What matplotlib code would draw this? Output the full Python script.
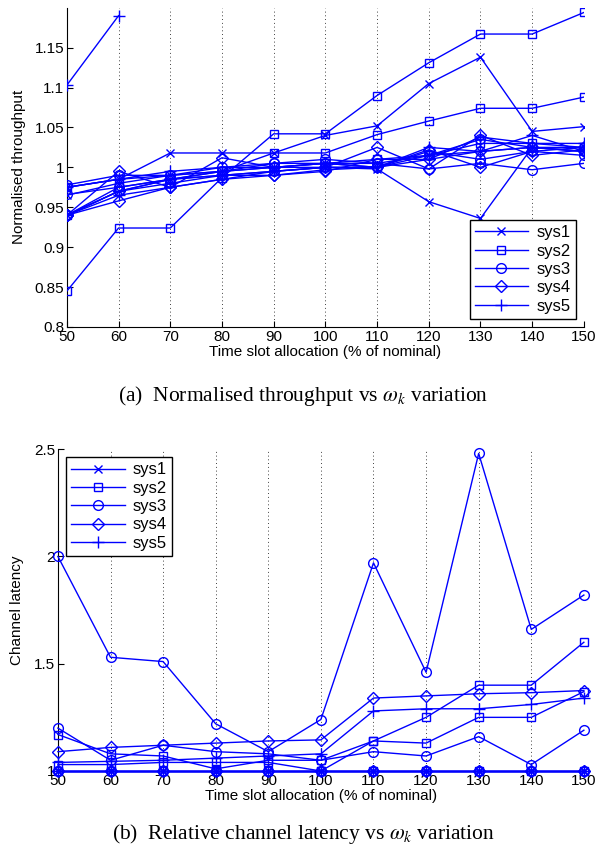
import matplotlib
matplotlib.use("Agg")
import matplotlib.pyplot as plt
import numpy as np

nan = np.nan

# time slot allocation (% of nominal)
slots = [50, 60, 70, 80, 90, 100, 110, 120, 130, 140, 150]
system_names = ["sys1", "sys2", "sys3", "sys4", "sys5"]

# normalised throughput, several channels per system
thr_sys1 = [
    [0.975, 0.985, 1.018, 1.018, 1.018, 1.040, 1.052, 1.105, 1.138, 1.045, 1.051],
    [0.940, 0.970, 0.985, 0.990, 0.995, 1.000, 0.998, 0.957, 0.936, 1.025, 1.020],
    [0.965, 0.980, 0.990, 0.995, 1.000, 1.005, 1.005, 1.015, 1.020, 1.025, 1.025],
]
thr_sys2 = [
    [0.845, 0.924, 0.924, 0.987, 1.042, 1.042, 1.090, 1.131, 1.167, 1.167, 1.194],
    [0.940, 0.975, 0.985, 0.995, 1.018, 1.018, 1.041, 1.058, 1.074, 1.074, 1.088],
    [0.975, 0.985, 0.990, 0.995, 1.000, 1.005, 1.010, 1.015, 1.030, 1.030, 1.025],
]
thr_sys3 = [
    [0.978, 0.990, 0.990, 1.000, 1.005, 1.010, 1.005, 0.998, 1.005, 0.997, 1.005],
    [0.966, 0.975, 0.985, 0.995, 1.005, 1.005, 1.000, 1.020, 1.010, 1.020, 1.015],
    [0.940, 0.970, 0.980, 0.990, 0.995, 1.000, 1.000, 1.015, 1.035, 1.025, 1.020],
]
thr_sys4 = [
    [0.940, 0.995, 0.975, 1.012, 1.000, 1.000, 1.025, 0.998, 1.040, 1.015, 1.022],
    [0.940, 0.958, 0.975, 0.985, 0.990, 0.997, 1.000, 1.022, 1.000, 1.020, 1.025],
    [0.940, 0.970, 0.985, 0.990, 0.990, 0.995, 1.010, 1.010, 1.020, 1.025, 1.020],
]
thr_sys5 = [
    [1.103, 1.190, nan, nan, nan, nan, nan, nan, nan, nan, nan],
    [0.975, 0.985, 0.995, 1.000, 1.000, 1.005, 1.000, 1.025, 1.020, 1.040, 1.020],
    [0.940, 0.965, 0.975, 0.985, 0.995, 1.000, 1.000, 1.010, 1.038, 1.030, 1.030],
]

# relative channel latency
lat_sys1 = [
    [1.0] * 11,
    [1.0] * 11,
    [1.0] * 11,
]
lat_sys2 = [
    [1.17, 1.08, 1.07, 1.01, 1.05, 1.05, 1.14, 1.13, 1.25, 1.25, 1.37],
    [1.03, 1.03, 1.04, 1.04, 1.04, 1.00, 1.14, 1.25, 1.40, 1.40, 1.60],
    [1.0] * 11,
]
lat_sys3 = [
    [2.00, 1.53, 1.51, 1.22, 1.09, 1.24, 1.97, 1.46, 2.48, 1.66, 1.82],
    [1.20, 1.05, 1.12, 1.09, 1.08, 1.05, 1.09, 1.07, 1.16, 1.03, 1.19],
    [1.0] * 11,
]
lat_sys4 = [
    [1.09, 1.11, 1.12, 1.13, 1.14, 1.145, 1.34, 1.35, 1.36, 1.365, 1.375],
    [1.0] * 11,
]
lat_sys5 = [
    [1.04, 1.045, 1.05, 1.06, 1.07, 1.08, 1.28, 1.29, 1.29, 1.31, 1.34],
    [1.0] * 11,
]

markers = ["x", "s", "o", "D", "+"]
msizes = [6, 6, 7, 6, 8]
BLUE = (0, 0, 1)

plt.rcParams.update({
    "font.family": ["Liberation Sans", "DejaVu Sans"],
    "font.size": 11,
    "xtick.direction": "in",
    "ytick.direction": "in",
    "mathtext.fontset": "stix",
})


def draw_panel(ax, groups, clip=True):
    handles = []
    for name, lines, mk, ms in zip(system_names, groups, markers, msizes):
        for i, vals in enumerate(lines):
            (h,) = ax.plot(slots, vals, color=BLUE, lw=1.0, marker=mk, ms=ms,
                           mfc="none", mec=BLUE, mew=1.0, clip_on=clip, zorder=3,
                           label=name if i == 0 else None)
            if i == 0:
                handles.append(h)
    ax.set_xlim(50, 150)
    ax.set_xticks(slots)
    ax.xaxis.grid(True, linestyle=(0, (1, 3.5)), color="black", lw=0.6)
    ax.spines["top"].set_visible(False)
    ax.spines["right"].set_visible(False)
    ax.tick_params(length=4, width=0.8, pad=2)
    ax.set_xlabel("Time slot allocation (% of nominal)", labelpad=1)
    return handles


def add_legend(ax, handles, loc):
    leg = ax.legend(handles=handles, loc=loc, fancybox=False, edgecolor="black",
                    framealpha=1, borderaxespad=0.5, handlelength=3.2, fontsize=12,
                    labelspacing=0.2, borderpad=0.3, handletextpad=0.5)
    leg.get_frame().set_linewidth(1.0)
    leg.set_zorder(5)


fig = plt.figure(figsize=(5.97, 8.56), dpi=100)

ax1 = fig.add_axes([0.112, 0.618, 0.866, 0.373])
h1 = draw_panel(ax1, [thr_sys1, thr_sys2, thr_sys3, thr_sys4, thr_sys5])
ax1.set_ylim(0.8, 1.2)
ax1.set_yticks([0.8, 0.85, 0.9, 0.95, 1.0, 1.05, 1.1, 1.15])
ax1.set_yticklabels(["0.8", "0.85", "0.9", "0.95", "1", "1.05", "1.1", "1.15"])
ax1.set_ylabel("Normalised throughput", labelpad=6)
add_legend(ax1, h1, "lower right")

ax2 = fig.add_axes([0.097, 0.0993, 0.881, 0.376])
h2 = draw_panel(ax2, [lat_sys1, lat_sys2, lat_sys3, lat_sys4, lat_sys5], clip=False)
ax2.set_ylim(1.0, 2.5)
ax2.set_yticks([1.0, 1.5, 2.0, 2.5])
ax2.set_yticklabels(["1", "1.5", "2", "2.5"])
ax2.set_ylabel("Channel latency", labelpad=7)
add_legend(ax2, h2, "upper left")

cap_font = {"family": "Liberation Serif", "size": 15.5}
fig.text(0.508, 1 - 396 / 856, r"(a)  Normalised throughput vs $\omega_k$ variation",
         ha="center", va="center", fontdict=cap_font)
fig.text(0.508, 1 - 834 / 856, r"(b)  Relative channel latency vs $\omega_k$ variation",
         ha="center", va="center", fontdict=cap_font)

fig.savefig("out.png", dpi=100)
